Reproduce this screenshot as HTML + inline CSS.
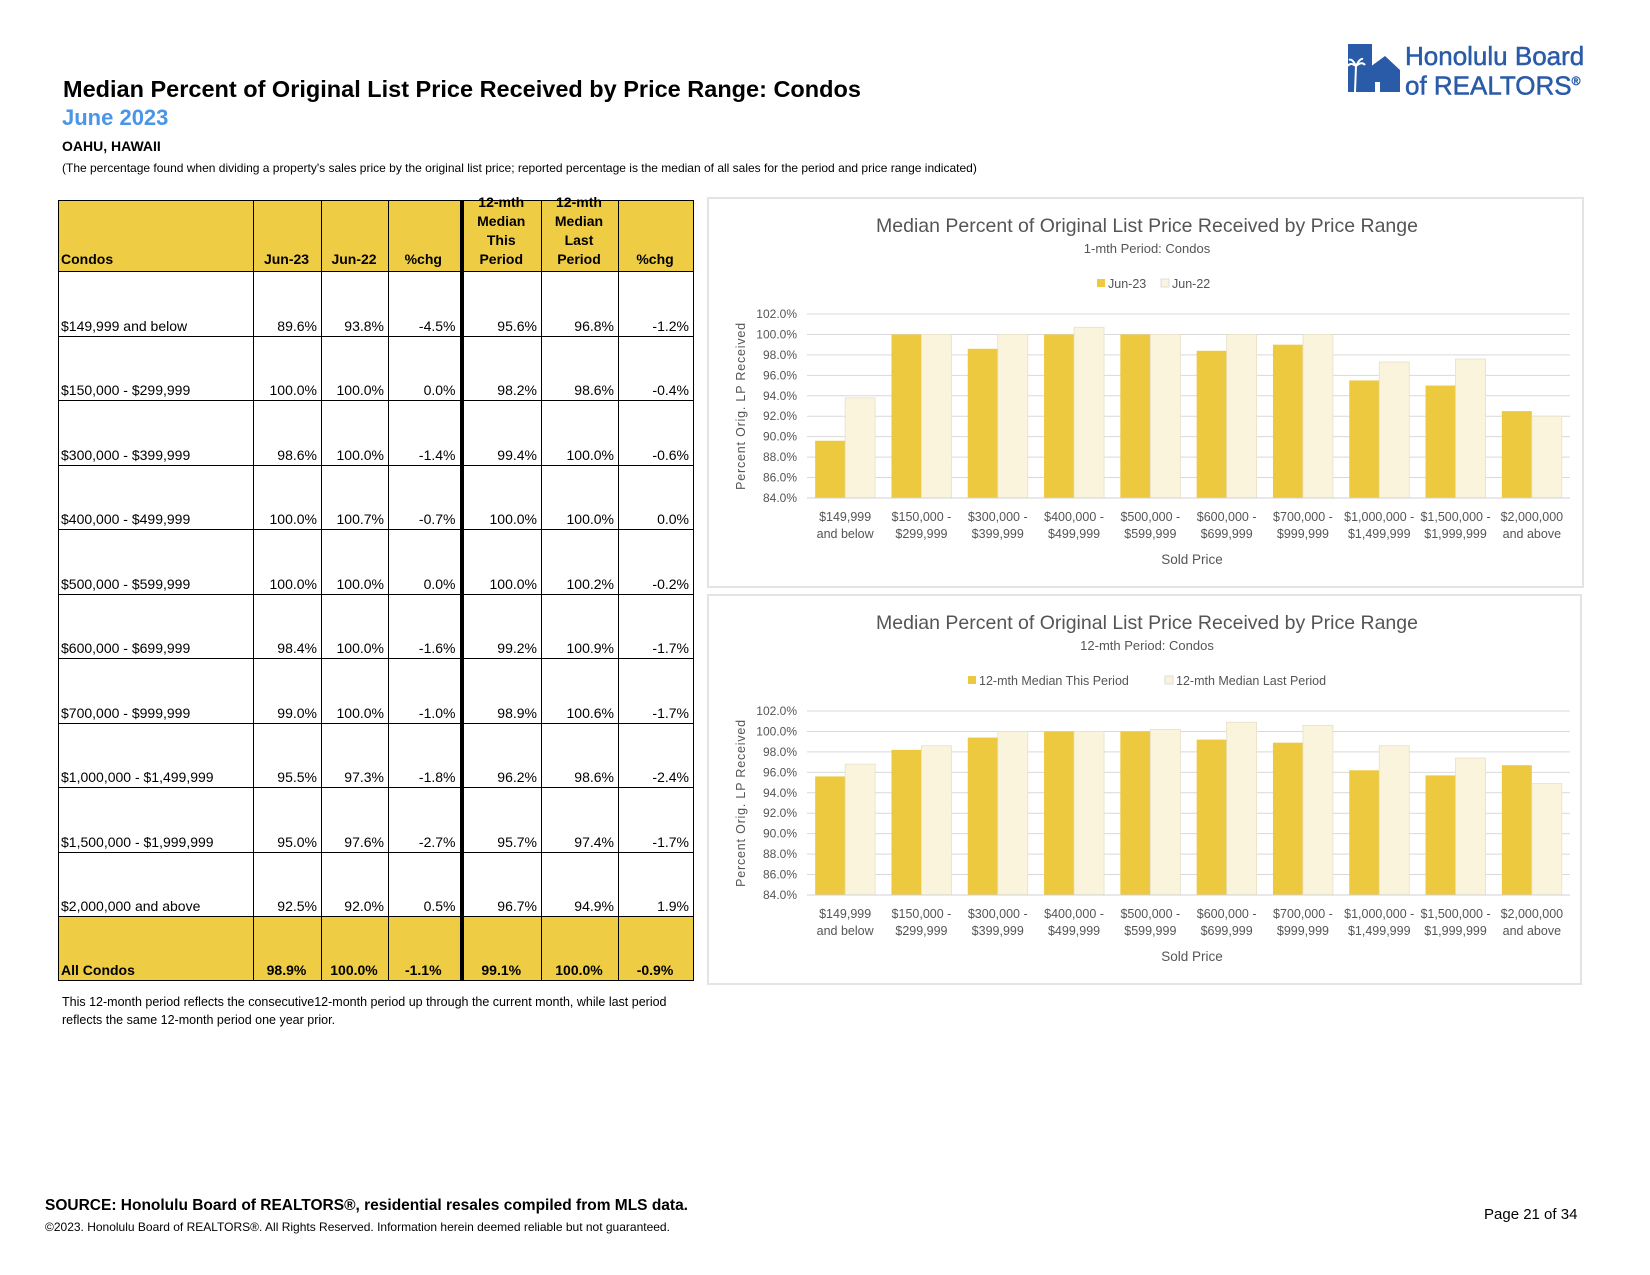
<!DOCTYPE html>
<html><head><meta charset="utf-8">
<style>
body{margin:0;width:1650px;height:1275px;background:#fff;font-family:"Liberation Sans",sans-serif;position:relative;overflow:hidden}
.abs{position:absolute;white-space:nowrap}
table{position:absolute;left:58px;top:200px;border-collapse:collapse;table-layout:fixed;font-size:14px}
td{border:1.5px solid #000;vertical-align:bottom;text-align:right;padding:0 4px 2px 2px;height:61.5px}
td.l{text-align:left;padding-left:2px}
tr.h td{background:#EECC44;font-weight:bold;text-align:center;height:68px}
tr.h td div{height:68px;display:flex;flex-direction:column;justify-content:flex-end;line-height:19px}
tr.h td.l{text-align:left}
tr.t td{background:#EECC44;font-weight:bold;height:61px;text-align:center}
tr.t td.l{text-align:left}
td.tk{border-left:4px solid #000}
.frame{position:absolute;border:2px solid #e4e4e4;background:#fff}
</style></head><body>
<div class="abs" style="left:63px;top:76px;font-size:23.5px;font-weight:bold">Median Percent of Original List Price Received by Price Range: Condos</div>
<div class="abs" style="left:62px;top:105px;font-size:22px;font-weight:bold;color:#4a95e8">June 2023</div>
<div class="abs" style="left:62px;top:138px;font-size:14px;font-weight:bold">OAHU, HAWAII</div>
<div class="abs" style="left:62px;top:161px;font-size:12px">(The percentage found when dividing a property's sales price by the original list price; reported percentage is the median of all sales for the period and price range indicated)</div>

<div class="abs" style="left:1348px;top:44px;width:280px;height:52px">
<svg width="52" height="50" style="position:absolute;left:0;top:0"><rect x="0" y="0" width="24" height="48" fill="#2a5ba8"/><polygon points="18,26 37,12 52,26 52,48 18,48" fill="#2a5ba8"/><rect x="27" y="38" width="5" height="10" fill="#fff"/><path d="M7 48 L8 22 M8 22 Q2 18 0 22 M8 22 Q14 17 17 21 M8 22 Q4 14 1 16 M8 22 Q12 14 15 15" stroke="#fff" stroke-width="2" fill="none"/></svg>
<div class="abs" style="left:57px;top:0px;font-size:26px;color:#2a5ba8;line-height:25px;-webkit-text-stroke:0.5px #2a5ba8">Honolulu Board<br>of REALTORS<sup style="font-size:12px">®</sup></div>
</div>

<table>
<colgroup><col style="width:195px"><col style="width:68px"><col style="width:67px"><col style="width:73px"><col style="width:80px"><col style="width:77px"><col style="width:75px"></colgroup>
<tr class="h"><td class="l"><div>Condos</div></td><td><div>Jun-23</div></td><td><div>Jun-22</div></td><td><div>%chg</div></td><td class="tk"><div>12-mth<br>Median<br>This<br>Period</div></td><td><div>12-mth<br>Median<br>Last<br>Period</div></td><td><div>%chg</div></td></tr>
<tr><td class="l">$149,999 and below</td><td>89.6%</td><td>93.8%</td><td>-4.5%</td><td class="tk">95.6%</td><td>96.8%</td><td>-1.2%</td></tr>
<tr><td class="l">$150,000 - $299,999</td><td>100.0%</td><td>100.0%</td><td>0.0%</td><td class="tk">98.2%</td><td>98.6%</td><td>-0.4%</td></tr>
<tr><td class="l">$300,000 - $399,999</td><td>98.6%</td><td>100.0%</td><td>-1.4%</td><td class="tk">99.4%</td><td>100.0%</td><td>-0.6%</td></tr>
<tr><td class="l">$400,000 - $499,999</td><td>100.0%</td><td>100.7%</td><td>-0.7%</td><td class="tk">100.0%</td><td>100.0%</td><td>0.0%</td></tr>
<tr><td class="l">$500,000 - $599,999</td><td>100.0%</td><td>100.0%</td><td>0.0%</td><td class="tk">100.0%</td><td>100.2%</td><td>-0.2%</td></tr>
<tr><td class="l">$600,000 - $699,999</td><td>98.4%</td><td>100.0%</td><td>-1.6%</td><td class="tk">99.2%</td><td>100.9%</td><td>-1.7%</td></tr>
<tr><td class="l">$700,000 - $999,999</td><td>99.0%</td><td>100.0%</td><td>-1.0%</td><td class="tk">98.9%</td><td>100.6%</td><td>-1.7%</td></tr>
<tr><td class="l">$1,000,000 - $1,499,999</td><td>95.5%</td><td>97.3%</td><td>-1.8%</td><td class="tk">96.2%</td><td>98.6%</td><td>-2.4%</td></tr>
<tr><td class="l">$1,500,000 - $1,999,999</td><td>95.0%</td><td>97.6%</td><td>-2.7%</td><td class="tk">95.7%</td><td>97.4%</td><td>-1.7%</td></tr>
<tr><td class="l">$2,000,000 and above</td><td>92.5%</td><td>92.0%</td><td>0.5%</td><td class="tk">96.7%</td><td>94.9%</td><td>1.9%</td></tr>
<tr class="t"><td class="l">All Condos</td><td>98.9%</td><td>100.0%</td><td>-1.1%</td><td class="tk">99.1%</td><td>100.0%</td><td>-0.9%</td></tr>
</table>
<div class="abs" style="left:62px;top:993px;font-size:12.5px;line-height:18px">This 12-month period reflects the consecutive12-month period up through the current month, while last period<br>reflects the same 12-month period one year prior.</div>

<div class="frame" style="left:707px;top:197px;width:873px;height:387px"></div>
<div class="frame" style="left:707px;top:594px;width:871px;height:387px"></div>
<svg id="charts" width="1650" height="1275" style="position:absolute;left:0;top:0" font-family="Liberation Sans, sans-serif"></svg>

<div class="abs" style="left:45px;top:1197px;font-size:15.5px;font-weight:bold">SOURCE: Honolulu Board of REALTORS®, residential resales compiled from MLS data.</div>
<div class="abs" style="left:45px;top:1220px;font-size:12px">©2023. Honolulu Board of REALTORS®. All Rights Reserved. Information herein deemed reliable but not guaranteed.</div>
<div class="abs" style="left:1484px;top:1206px;font-size:15px">Page 21 of 34</div>

<script>
const categories1 = ["$149,999|and below","$150,000 -|$299,999","$300,000 -|$399,999","$400,000 -|$499,999","$500,000 -|$599,999","$600,000 -|$699,999","$700,000 -|$999,999","$1,000,000 -|$1,499,999","$1,500,000 -|$1,999,999","$2,000,000|and above"];
const jun23 = [89.6,100.0,98.6,100.0,100.0,98.4,99.0,95.5,95.0,92.5];
const jun22 = [93.8,100.0,100.0,100.7,100.0,100.0,100.0,97.3,97.6,92.0];
const thisPeriod = [95.6,98.2,99.4,100.0,100.0,99.2,98.9,96.2,95.7,96.7];
const lastPeriod = [96.8,98.6,100.0,100.0,100.2,100.9,100.6,98.6,97.4,94.9];
const yTicks = [84,86,88,90,92,94,96,98,100,102];
const legend1 = ["Jun-23","Jun-22"];
const legend2 = ["12-mth Median This Period","12-mth Median Last Period"];

const NS="http://www.w3.org/2000/svg";
const svg=document.getElementById('charts');
function mk(tag,attrs,parent){const e=document.createElementNS(NS,tag);for(const k in attrs)e.setAttribute(k,attrs[k]);(parent||svg).appendChild(e);return e;}
function txt(s,attrs,parent){const e=mk('text',attrs,parent);e.textContent=s;return e;}

function drawChart(off,subtitle,sA,sB,leg,legX,name){
  const g=mk('g',{});
  
  
  const x0=807,x1=1570,yTop=314+off,yBot=498+off;
  const ymin=84,ymax=102;
  const y=v=>yBot-(v-ymin)/(ymax-ymin)*(yBot-yTop);
  const band=(x1-x0)/categories1.length;
  const bx=i=>x0+i*band;
  const t=txt("Median Percent of Original List Price Received by Price Range",{x:1147,y:232+off,'font-size':19.5,fill:'#555','text-anchor':'middle'},g);
  
  
  const st=txt(subtitle,{x:1147,y:253+off,'font-size':13,fill:'#555','text-anchor':'middle'},g);
  
  
  [0,1].forEach(k=>{
    const le=mk('g',{},g);
    
    
    mk('rect',{x:legX[k],y:279+off,width:8,height:8,fill:k?'#FAF4DC':'#EDC940',stroke:k?'#ddd':'none'},le);
    txt(leg[k],{x:legX[k]+11,y:288+off,'font-size':12.5,fill:'#555'},le);
  });
  yTicks.forEach(v=>{
    const gl=mk('line',{x1:x0,x2:x1,y1:y(v),y2:y(v),stroke:'#d9d9d9','stroke-width':1},g);
    
    
    const tl=txt(v.toFixed(1)+'%',{x:797,y:y(v)+4,'font-size':12,fill:'#555','text-anchor':'end'},g);
    
    
  });
  categories1.forEach((c,i)=>{
    const cx=bx(i)+band/2, bw=30;
    const a=mk('rect',{x:cx-bw,y:y(sA[i]),width:bw,height:yBot-y(sA[i]),fill:'#EDC940'},g);
    
    
    const b=mk('rect',{x:cx,y:y(sB[i]),width:bw,height:yBot-y(sB[i]),fill:'#FAF4DC',stroke:'#e6e0c8','stroke-width':0.8},g);
    
    
    c.split('|').forEach((p,j)=>{
      const cl=txt(p,{x:cx,y:yBot+23+j*17,'font-size':12.5,fill:'#555','text-anchor':'middle'},g);
      
      
    });
  });
  mk('line',{x1:x0,x2:x1,y1:yBot,y2:yBot,stroke:'#d0d0d0'},g);
  const xt=txt("Sold Price",{x:1192,y:yBot+66,'font-size':13.5,fill:'#555','text-anchor':'middle'},g);
  
  
  const yt=txt("Percent Orig. LP Received",{x:0,y:0,'font-size':12.5,fill:'#555','text-anchor':'middle','letter-spacing':'0.8',transform:`translate(745,${406+off}) rotate(-90)`},g);
  
  
}
drawChart(0,"1-mth Period: Condos",jun23,jun22,legend1,[1097,1161],'chart-1mth');
drawChart(397,"12-mth Period: Condos",thisPeriod,lastPeriod,legend2,[968,1165],'chart-12mth');
</script>
</body></html>
